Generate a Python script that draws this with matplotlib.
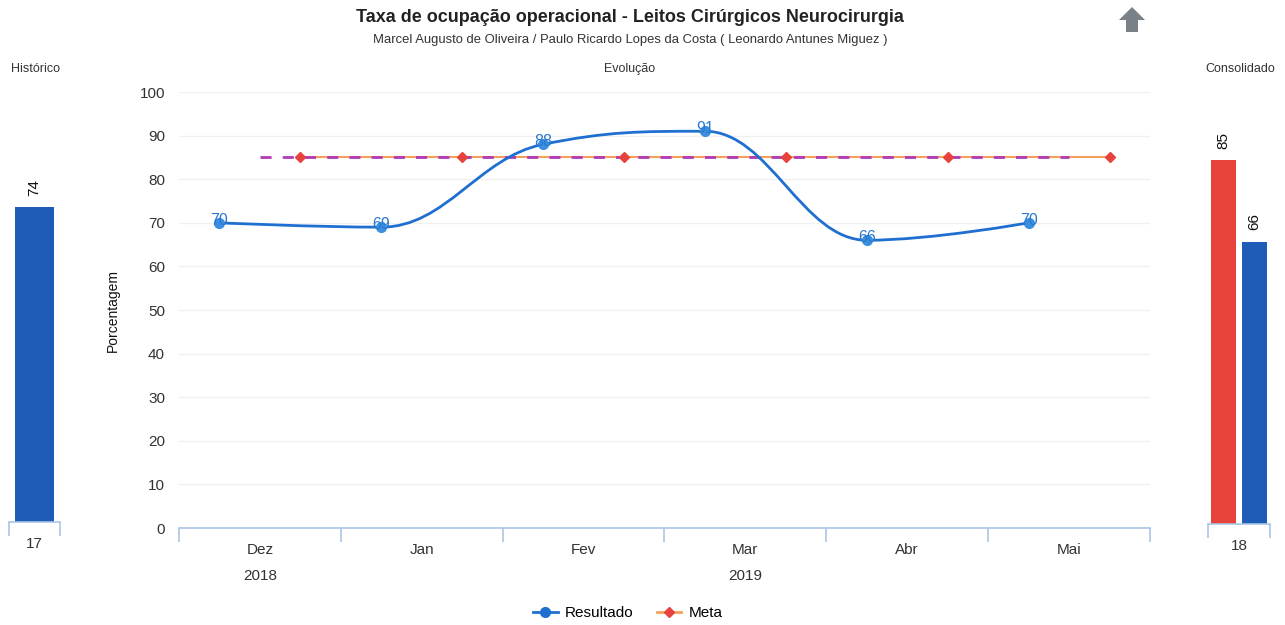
import matplotlib
matplotlib.use("Agg")
import matplotlib.pyplot as plt
from matplotlib.path import Path
from matplotlib.patches import PathPatch, Polygon
from matplotlib.lines import Line2D
import matplotlib.transforms as mtransforms

plt.rcParams['font.family'] = ['Liberation Sans', 'DejaVu Sans']

# ---------------- data ----------------
categories = ["Dez", "Jan", "Fev", "Mar", "Abr", "Mai"]
years = ["2018", "2019"]
year_positions = [0, 3]
resultado = [70, 69, 88, 91, 66, 70]
meta = [85, 85, 85, 85, 85, 85]
hist_label = ["17"]
hist_values = [74]
cons_label = ["18"]
cons_meta = [85]
cons_resultado = [66]

title = "Taxa de ocupação operacional - Leitos Cirúrgicos Neurocirurgia"
subtitle = "Marcel Augusto de Oliveira / Paulo Ricardo Lopes da Costa ( Leonardo Antunes Miguez )"

BLUE = "#1f6fd1"
BLUE_BAR = "#1f5cb8"
RED = "#e8423d"
ORANGE = "#f5a05a"
PURPLE = "#b03ab8"
AXIS = "#a9c6e6"
GRID = "#f0f0f0"
TXT = "#333333"

W, H = 1285, 625
fig = plt.figure(figsize=(W / 100, H / 100), dpi=100)


def fx(px):
    return px / W


def fy(py):
    return 1 - py / H


# ---------------- spline helper (Highcharts style) ----------------
def spline_path(xs, ys, smoothing=1.5):
    n = len(xs)
    denom = smoothing + 1
    lc = [None] * n
    rc = [None] * n
    for i in range(1, n - 1):
        x, y = xs[i], ys[i]
        lx, ly = xs[i - 1], ys[i - 1]
        nx, ny = xs[i + 1], ys[i + 1]
        lcx = (smoothing * x + lx) / denom
        lcy = (smoothing * y + ly) / denom
        rcx = (smoothing * x + nx) / denom
        rcy = (smoothing * y + ny) / denom
        if rcx != lcx:
            corr = ((rcy - lcy) * (rcx - x)) / (rcx - lcx) + y - rcy
            lcy += corr
            rcy += corr
        if lcy > max(ly, y):
            lcy = max(ly, y)
            rcy = 2 * y - lcy
        elif lcy < min(ly, y):
            lcy = min(ly, y)
            rcy = 2 * y - lcy
        if rcy > max(y, ny):
            rcy = max(y, ny)
            lcy = 2 * y - rcy
        elif rcy < min(y, ny):
            rcy = min(y, ny)
            lcy = 2 * y - rcy
        lc[i] = (lcx, lcy)
        rc[i] = (rcx, rcy)
    verts = [(xs[0], ys[0])]
    codes = [Path.MOVETO]
    for i in range(1, n):
        p0 = rc[i - 1] if rc[i - 1] is not None else (xs[i - 1], ys[i - 1])
        p1 = lc[i] if lc[i] is not None else (xs[i], ys[i])
        verts += [p0, p1, (xs[i], ys[i])]
        codes += [Path.CURVE4] * 3
    return Path(verts, codes)


# ---------------- main axes ----------------
ax = fig.add_axes([fx(179), fy(528), fx(1150 - 179), (528 - 92) / H])
n = len(categories)
ax.set_xlim(-0.5, n - 0.5)
ax.set_ylim(0, 100)
for s in ["top", "right", "left"]:
    ax.spines[s].set_visible(False)
ax.spines["bottom"].set_color(AXIS)
ax.spines["bottom"].set_linewidth(1.2)
ax.set_yticks(range(0, 101, 10))
ax.yaxis.grid(True, color=GRID, linewidth=1)
ax.set_axisbelow(True)
ax.tick_params(axis="y", length=0, pad=10, labelsize=11, labelcolor=TXT)
ax.set_xticks([i - 0.5 for i in range(n + 1)])
ax.set_xticklabels([])
ax.tick_params(axis="x", which="major", length=10, color=AXIS, width=1.2)
ax.set_xticks(range(n), minor=True)
ax.set_xticklabels(categories, minor=True)
ax.tick_params(axis="x", which="minor", length=0, pad=11, labelsize=11, labelcolor=TXT)
ax.set_ylabel("Porcentagem", fontsize=10, color="#111111", labelpad=14)

trans = mtransforms.blended_transform_factory(ax.transData, fig.transFigure)
for yr, pos in zip(years, year_positions):
    fig.text(pos, fy(576), yr, transform=trans, ha="center", va="center",
             fontsize=11, color=TXT)

res_x = [i - 0.25 for i in range(n)]
meta_x = [i + 0.25 for i in range(n)]

# meta series line
ax.plot(meta_x, meta, color=ORANGE, linewidth=1.5, zorder=2)
# dashed purple target line at category centers
ax.plot(range(n), meta, color=PURPLE, linestyle=(0, (4, 4)), linewidth=2, zorder=3)
# meta markers
ax.plot(meta_x, meta, linestyle="none", marker="D", markersize=5,
        markerfacecolor=RED, markeredgecolor=RED, zorder=3.5)
# resultado spline
ax.add_patch(PathPatch(spline_path(res_x, resultado), facecolor="none",
                       edgecolor=BLUE, linewidth=2, zorder=4))
ax.plot(res_x, resultado, linestyle="none", marker="o", markersize=7,
        color="#3a8fe0", zorder=5)
for xv, yv in zip(res_x, resultado):
    ax.annotate(str(yv), (xv, yv), xytext=(0, 2), textcoords="offset points",
                ha="center", va="center", fontsize=11.5, color="#2a78cf", zorder=6)

# legend
handles = [
    Line2D([], [], color=BLUE, marker="o", markersize=7, linewidth=2),
    Line2D([], [], color=ORANGE, marker="D", markersize=5, markerfacecolor=RED,
           markeredgecolor=RED, linewidth=2),
]
fig.legend(handles, ["Resultado", "Meta"], loc="center", bbox_to_anchor=(fx(628), fy(613)),
           ncol=2, frameon=False, fontsize=11, handlelength=1.6, columnspacing=1.5,
           handletextpad=0.5)

# ---------------- historic axes ----------------
axh = fig.add_axes([fx(9), fy(522), fx(60 - 9), (522 - 96) / H])
axh.set_xlim(-0.5, 0.5)
axh.set_ylim(0, 100)
for s in ["top", "right", "left"]:
    axh.spines[s].set_visible(False)
axh.spines["bottom"].set_color(AXIS)
axh.spines["bottom"].set_linewidth(1.2)
axh.set_yticks([])
axh.set_xticks([-0.5, 0.5])
axh.set_xticklabels([])
axh.tick_params(axis="x", which="major", length=10, color=AXIS, width=1.2)
axh.set_xticks([0], minor=True)
axh.set_xticklabels(hist_label, minor=True)
axh.tick_params(axis="x", which="minor", length=0, pad=11, labelsize=11, labelcolor=TXT)
bars = axh.bar([0], hist_values, width=0.78, color=BLUE_BAR)
for b, v in zip(bars, hist_values):
    axh.annotate(str(v), (b.get_x() + b.get_width() / 2, v), xytext=(0, 8),
                 textcoords="offset points", rotation=90, ha="center", va="bottom",
                 fontsize=11, color="#111111")

# ---------------- consolidated axes ----------------
axc = fig.add_axes([fx(1208), fy(524), fx(1270 - 1208), (524 - 96) / H])
axc.set_xlim(-0.5, 0.5)
axc.set_ylim(0, 100)
for s in ["top", "right", "left"]:
    axc.spines[s].set_visible(False)
axc.spines["bottom"].set_color(AXIS)
axc.spines["bottom"].set_linewidth(1.2)
axc.set_yticks([])
axc.set_xticks([-0.5, 0.5])
axc.set_xticklabels([])
axc.tick_params(axis="x", which="major", length=10, color=AXIS, width=1.2)
axc.set_xticks([0], minor=True)
axc.set_xticklabels(cons_label, minor=True)
axc.tick_params(axis="x", which="minor", length=0, pad=11, labelsize=11, labelcolor=TXT)
b1 = axc.bar([-0.245], cons_meta, width=0.40, color=RED)
b2 = axc.bar([0.245], cons_resultado, width=0.40, color=BLUE_BAR)
for bars in (b1, b2):
    for b in bars:
        v = b.get_height()
        axc.annotate(str(v), (b.get_x() + b.get_width() / 2, v), xytext=(0, 8),
                     textcoords="offset points", rotation=90, ha="center", va="bottom",
                     fontsize=11, color="#111111")

# ---------------- titles ----------------
fig.text(fx(630), fy(18), title, ha="center", va="center", fontsize=13,
         fontweight="bold", color="#222222")
fig.text(fx(630), fy(40), subtitle, ha="center", va="center", fontsize=9.4, color=TXT)
fig.text(fx(35), fy(69), "Histórico", ha="center", va="center", fontsize=9, color=TXT)
fig.text(fx(630), fy(69), "Evolução", ha="center", va="center", fontsize=9, color=TXT)
fig.text(fx(1240), fy(69), "Consolidado", ha="center", va="center", fontsize=9, color=TXT)

# up-arrow icon
arrow = [(1132, 7), (1145, 20), (1138, 20), (1138, 32), (1126, 32), (1126, 20), (1119, 20)]
fig.patches.append(Polygon([(fx(x), fy(y)) for x, y in arrow], closed=True,
                           transform=fig.transFigure, facecolor="#7a8088",
                           edgecolor="none"))

fig.savefig("out.png", dpi=100, facecolor="white")
